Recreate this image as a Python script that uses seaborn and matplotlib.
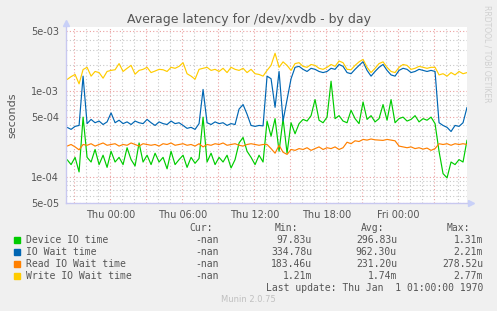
import numpy as np
import pandas as pd
import matplotlib
matplotlib.use('Agg')
import matplotlib.pyplot as plt
from matplotlib.patches import Rectangle
import seaborn as sns

W, H = 497, 311

# one sample every 20 min, hours relative to Thu 00:00
hours = np.arange(101) / 3.0 - 3.6

# values, in microseconds
device_io = [160, 140, 170, 115, 500, 170, 150, 210, 140, 180,
             130, 200, 150, 170, 140, 220, 160, 135, 250, 150,
             180, 140, 190, 150, 170, 125, 200, 140, 160, 180,
             130, 170, 145, 165, 500, 150, 190, 140, 170, 150,
             180, 128, 160, 250, 290, 200, 170, 140, 180, 150,
             450, 300, 480, 200, 480, 190, 430, 320, 420, 470,
             450, 520, 800, 460, 430, 500, 1310, 480, 520, 450,
             430, 600, 480, 420, 750, 470, 520, 440, 480, 700,
             460, 800, 430, 480, 500, 450, 470, 520, 440, 480,
             460, 500, 420, 200, 110, 98, 150, 140, 160, 150, 270]
io_wait = [380, 360, 390, 400, 1500, 420, 470, 430, 450, 410,
           440, 560, 430, 460, 420, 440, 410, 450, 430, 420,
           470, 430, 400, 440, 420, 410, 450, 420, 430, 400,
           370, 380, 360, 420, 1050, 430, 410, 440, 420, 430,
           400, 420, 410, 620, 700, 540, 400, 390, 400, 395,
           1500, 1400, 650, 1700, 450, 800, 1400, 1900, 1950, 1800,
           1700, 1850, 1800, 1700, 1650, 1700, 1850, 1800, 2050, 1950,
           1650, 1600, 1800, 2000, 2210, 1750, 1500, 1700, 1900, 2050,
           1750, 1550, 1500, 1750, 1850, 1800, 1650, 1700, 1800, 1750,
           1700, 1750, 1700, 430, 400, 380, 340, 400, 390, 430, 650]
read_wait = [230, 240, 225, 208, 240, 235, 245, 230, 240, 250,
             235, 240, 245, 230, 240, 235, 250, 240, 230, 245,
             240, 235, 240, 230, 245, 240, 250, 235, 240, 245,
             235, 240, 230, 245, 225, 240, 235, 245, 240, 250,
             235, 240, 245, 235, 230, 240, 245, 240, 235, 240,
             240, 215, 190, 235, 195, 184, 210, 205, 215, 210,
             220, 205, 215, 225, 210, 220, 215, 225, 210, 220,
             255, 245, 265, 260, 275, 270, 278, 272, 270, 268,
             275, 270, 265, 230, 225, 220, 225, 215, 220, 212,
             218, 205, 215, 245, 240, 245, 235, 245, 240, 245, 240]
write_wait = [1370, 1480, 1570, 1220, 1790, 1900, 1500, 1700, 1650, 1420,
              1700, 1750, 1780, 2100, 1700, 1850, 2000, 1580, 1750, 1800,
              1900, 1650, 1720, 1800, 1780, 1700, 1900, 1850, 1950, 2150,
              1600, 1500, 1380, 1800, 1850, 1900, 1750, 1800, 1700, 1850,
              1650, 1900, 1800, 1750, 1850, 1650, 1800, 1600, 1570, 1500,
              1750, 2000, 2770, 1900, 2200, 2000, 1750, 2100, 2150, 1950,
              1900, 2050, 2000, 1850, 1800, 1900, 2050, 1950, 2250, 2150,
              1800, 1780, 2000, 2200, 2350, 1900, 1650, 1850, 2100, 2200,
              1900, 1700, 1650, 1900, 2050, 2000, 1800, 1850, 1950, 1900,
              1850, 1900, 1900, 1550, 1600, 1500, 1650, 1550, 1700, 1600, 1650]

names = ['Device IO time', 'IO Wait time', 'Read IO Wait time', 'Write IO Wait time']
colors = ['#00cc00', '#0066b3', '#ff8000', '#ffcc00']
cur_col = ['-nan', '-nan', '-nan', '-nan']
min_col = ['97.83u', '334.78u', '183.46u', '1.21m']
avg_col = ['296.83u', '962.30u', '231.20u', '1.74m']
max_col = ['1.31m', '2.21m', '278.52u', '2.77m']

x_ticks = [-3, 0, 3, 6, 9, 12, 15, 18, 21, 24, 27]
x_labels = ['', 'Thu 00:00', '', 'Thu 06:00', '', 'Thu 12:00', '', 'Thu 18:00', '', 'Fri 00:00', '']
y_ticks = [5e-5, 1e-4, 5e-4, 1e-3, 5e-3]
y_labels = ['5e-05', '1e-04', '5e-04', '1e-03', '5e-03']

frames = []
for name, vals in zip(names, [device_io, io_wait, read_wait, write_wait]):
    frames.append(pd.DataFrame({'hours': hours,
                                'seconds': np.array(vals) * 1e-6,
                                'series': name}))
df = pd.concat(frames, ignore_index=True)

sns.set_style('white')
plt.rcParams['font.family'] = ['DejaVu Sans']

fig = plt.figure(figsize=(W / 100, H / 100), dpi=100, facecolor='#f0f0f0')
ax = fig.add_axes([66 / W, 1 - 203 / H, 401 / W, 176 / H])
ax.set_facecolor('white')

sns.lineplot(data=df, x='hours', y='seconds', hue='series', hue_order=names,
             palette=dict(zip(names, colors)), legend=False, ax=ax,
             linewidth=0.85, estimator=None, sort=False)

ax.set_yscale('log')
ax.set_ylim(5e-5, 5.6e-3)
ax.set_xlim(-3.69, 29.73)

minor_y = [m * 10.0 ** e for e in (-5, -4, -3) for m in (2, 3, 4, 6, 7, 8, 9)]
minor_y = [v for v in minor_y if 5e-5 < v < 5.6e-3]
ax.set_yticks(y_ticks)
ax.set_yticklabels(y_labels)
ax.set_yticks(minor_y, minor=True)
ax.set_xticks(x_ticks)
ax.set_xticklabels(x_labels)
ax.set_xticks(range(-3, 30), minor=True)

ax.grid(True, which='minor', color='#c8c8c8', linestyle=(0, (1, 2)), linewidth=0.8)
ax.grid(True, which='major', color='#eaa0a0', linestyle=(0, (1, 2)), linewidth=0.8)
ax.set_axisbelow(True)
ax.tick_params(which='major', length=2, color='#eaa0a0', labelsize=7,
               labelcolor='#555555', pad=3)
ax.tick_params(which='minor', length=1, color='#c8c8c8', labelleft=False, labelbottom=False)

for side in ['top', 'right']:
    ax.spines[side].set_visible(False)
for side in ['left', 'bottom']:
    ax.spines[side].set_color('#c8c8f0')
    ax.spines[side].set_linewidth(1.0)
ax.plot([0], [1.02], marker='^', color='#c8d0f8', markersize=5,
        transform=ax.transAxes, clip_on=False)
ax.plot([1.01], [0], marker='>', color='#c8d0f8', markersize=5,
        transform=ax.transAxes, clip_on=False)

ax.set_xlabel('')
ax.set_ylabel('seconds', fontsize=8, color='#555555', labelpad=10)

fig.text(249 / W, 1 - 20 / H, 'Average latency for /dev/xvdb - by day',
         ha='center', va='center', fontsize=9, color='#555555')
fig.text(487 / W, 1 - 5 / H, 'RRDTOOL / TOBI OETIKER', rotation=270,
         ha='center', va='top', fontsize=5.5, color='#d0d0d0')


def ftext(x, y, s, **kw):
    fig.text(x / W, 1 - y / H, s, family='DejaVu Sans Mono', fontsize=7,
             color='#555555', va='center', **kw)


ftext(213, 228, 'Cur:', ha='right')
ftext(298, 228, 'Min:', ha='right')
ftext(384, 228, 'Avg:', ha='right')
ftext(470, 228, 'Max:', ha='right')
for i, name in enumerate(names):
    y = 240 + 12 * i
    fig.add_artist(Rectangle((14 / W, 1 - (y + 3) / H), 6 / W, 6 / H,
                             transform=fig.transFigure, color=colors[i]))
    ftext(26, y, name, ha='left')
    ftext(219, y, cur_col[i], ha='right')
    ftext(312, y, min_col[i], ha='right')
    ftext(397, y, avg_col[i], ha='right')
    ftext(483, y, max_col[i], ha='right')
ftext(483, 288, 'Last update: Thu Jan  1 01:00:00 1970', ha='right')
fig.text(248 / W, 1 - 300 / H, 'Munin 2.0.75', ha='center', va='center',
         fontsize=6, color='#c0c0c0')

fig.savefig('out.png', dpi=100, facecolor=fig.get_facecolor())
